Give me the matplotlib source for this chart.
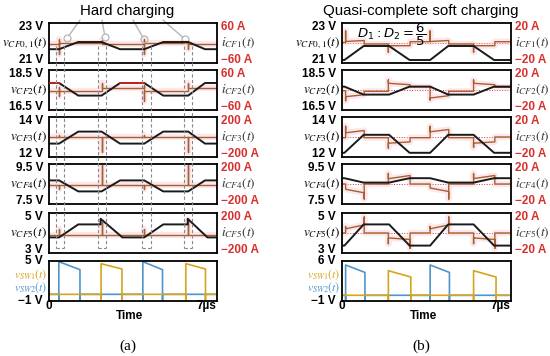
import numpy as np
import matplotlib
matplotlib.use("Agg")
import matplotlib.pyplot as plt
import matplotlib.transforms as mtransforms
from matplotlib.lines import Line2D

plt.rcParams["font.family"] = ["Liberation Sans", "DejaVu Sans"]
plt.rcParams["mathtext.fontset"] = "stix"

nan = np.nan
T_END = 7.0   # µs

# ─── (a) hard charging: capacitor voltages ─────────────────────
A_T  = [0, 0.42, 1.22, 2.19, 2.96, 3.97, 4.76, 5.8, 6.5, 7.0]
A_V1 = [21.69, 21.69, 22.05, 22.05, 21.69, 21.69, 22.05, 22.05, 21.69, 21.69]
A_V2 = [17.85, 17.85, 17.22, 17.22, 17.85, 17.85, 17.22, 17.22, 17.85, 17.85]
A_V3 = [12.67, 12.67, 13.27, 13.27, 12.67, 12.67, 13.27, 13.27, 12.67, 12.67]
A_V4 = [8.68, 8.68, 8.13, 8.13, 8.68, 8.68, 8.13, 8.13, 8.68, 8.68]
A_T5 = [0, 0.42, 1.22, 2.15, 2.15, 3.06, 3.97, 4.76, 5.78, 5.78, 6.6, 7.0]
A_V5 = [3.78, 3.78, 4.43, 4.43, 4.71, 3.78, 3.78, 4.43, 4.43, 4.71, 3.78, 3.78]

# (a) capacitor currents: flat levels with spikes at switching events
A_EV = [0.42, 2.19, 3.97, 5.8]
A_I1_LVL = [-3, 1, -2, 1, -2]
A_I1_UP = [13, 10, 11, nan]
A_I1_DN = [-32, nan, -32, -17]
A_I2_LVL = [-2, -2, 6, -2, 6]
A_I2_UP = [8, 21, 16, 21]
A_I2_DN = [-17, nan, -34, nan]
A_I3_LVL = [0, 0, 0, 0, 0]
A_I3_UP = [25, nan, 25, nan]
A_I3_DN = [nan, -150, nan, -150]
A_I4_LVL = [-10, -10, -10, -10, -10]
A_I4_UP = [nan, 190, nan, 190]
A_I4_DN = [-50, nan, -50, nan]
A_I5_LVL = [-15, -15, -15, -15, -15]
A_I5_UP = [44, 115, 44, 135]
A_I5_DN = [nan, nan, nan, nan]

A_VTOP = [23, 18.5, 14, 9.5, 5, 5]
A_VBOT = [21, 16.5, 12, 7.5, 3, -1]
A_IMAX = [60, 60, 200, 200, 200]

# (a) switch-node voltages
A_SW2_ON, A_SW2_OFF = [0.41, 3.91], [1.29, 4.73]
A_SW2_HI, A_SW2_LO = 4.9, 3.7
A_SW1_ON, A_SW1_OFF = [2.17, 5.7], [3.04, 6.52]
A_SW1_HI, A_SW1_LO = 4.6, 3.8

# (a) annotation targets and dashed windows
ANNOT_T = [0.75, 2.33, 3.96, 5.67]
ANNOT_I = [14, 19, 11, 11]
ANNOT_SRC_X = [80, 102, 133, 163]
A_WIN_L = [0.28, 2.03, 3.86, 5.64]
A_WIN_R = [0.64, 2.38, 4.25, 5.97]

# ─── (b) quasi-complete soft charging ─────────────────────────
B_T  = [0, 0.1, 0.9, 1.95, 2.8, 3.65, 4.4, 5.45, 6.3, 7.0]
B_V1 = [21.15, 21.15, 21.85, 21.85, 21.15, 21.15, 21.85, 21.85, 21.15, 21.15]
B_V2 = [17.67, 17.67, 17.27, 17.27, 17.67, 17.67, 17.27, 17.27, 17.67, 17.67]
B_V3 = [12.21, 12.21, 13.11, 13.11, 12.21, 12.21, 13.11, 13.11, 12.21, 12.21]
B_V4 = [8.79, 8.79, 8.57, 8.57, 8.79, 8.79, 8.57, 8.57, 8.79, 8.79]
B_V5 = [3.37, 3.37, 4.43, 4.43, 3.37, 3.37, 4.43, 4.43, 3.37, 3.37]

B_EV = [0.15, 0.92, 1.92, 2.82, 3.65, 4.42, 5.45, 6.33]
B_I1_A = [0.5, 1.5, -1, -2.7, 1.3, 1.5, -1, -2.7, 1.3]
B_I1_B = [0.5, 2.5, -1, -2.7, 1.3, 2.5, -1, -2.7, 1.3]
B_I1_SPK = [12, nan, -9.3, nan, 12, nan, -9.3, nan]
B_I2_A = [-0.7, -6.7, -1.3, 6.7, 3.3, -8, -1.3, 6.7, 2.7]
B_I2_B = [-0.7, -4.7, -1.3, 5.3, 3.3, -5.7, -1.3, 5.3, 2.7]
B_I2_SPK = [-10.7, nan, 10, nan, -10, nan, 10, nan]
B_I3_A = [-0.7, 4.2, -0.7, -6.2, -0.7, 5.2, -0.7, -6.2, 0]
B_I3_B = [-0.7, 6.5, -0.7, -4.9, -0.7, 7.5, -0.7, -4.9, 0]
B_I3_SPK = [10.7, nan, -11, nan, 10.7, nan, -10.4, nan]
B_I4_A = [0, -5.3, 0, 5.3, 0, -4, 0, 5.4, 0]
B_I4_B = [0, -8.8, 0, 8.5, 0, -7.5, 0, 8.5, 0]
B_I4_SPK = [nan, -15, 10.5, nan, nan, -15, 10.5, nan]
B_I5_A = [0, 4.2, 0, -4.9, 0, 4.2, 0, -4.9, 0]
B_I5_B = [0, 8.1, 0, -6.5, 0, 8.1, 0, -6.5, 0]
B_I5_SPK = [6.5, 16, -10.7, -15.3, 6.5, 16, -10.7, -15.3]

B_VTOP = [23, 18.5, 14, 9.5, 5, 6]
B_VBOT = [21, 16.5, 12, 7.5, 3, -1]
B_IMAX = [20, 20, 20, 20, 20]

B_SW2_ON, B_SW2_OFF = [0.15, 3.65], [0.95, 4.45]
B_SW2_HI, B_SW2_LO = 5.3, 4.0
B_SW1_ON, B_SW1_OFF = [1.92, 5.45], [2.85, 6.38]
B_SW1_HI, B_SW1_LO = 4.3, 3.2

V_NAMES = [r"$v_{CF0,1}(t)$", r"$v_{CF2}(t)$", r"$v_{CF3}(t)$",
           r"$v_{CF4}(t)$", r"$v_{CF5}(t)$"]
I_NAMES = [r"$i_{CF1}(t)$", r"$i_{CF2}(t)$", r"$i_{CF3}(t)$",
           r"$i_{CF4}(t)$", r"$i_{CF5}(t)$"]

# ─── colours / layout ─────────────────────────────────────────
C_V, C_I, C_PINK, C_RED = "#1a1a1a", "#a8602e", "#f6c3d0", "#d83030"
C_BLUE, C_YEL = "#4f95cc", "#d6a51c"
W, H = 550, 356
ROW_TOP = [23, 70, 117, 164, 213, 261]
ROW_H = 40
A_X = (49, 217)
B_X = (342, 511)
NAME_FS = 9.5


def build_current(ev, lv0, lv1, up, dn=None):
    edges = np.r_[0.0, ev, T_END]
    ts, vs = [], []
    for k in range(len(edges) - 1):
        if k > 0:
            if not np.isnan(up[k - 1]):
                ts.append(edges[k]); vs.append(up[k - 1])
            if dn is not None and not np.isnan(dn[k - 1]):
                ts.append(edges[k]); vs.append(dn[k - 1])
        ts += [edges[k], edges[k + 1]]
        vs += [lv0[k], lv1[k]]
    return ts, vs


def build_pulses(on, off, hi, lo):
    ts, vs = [0.0], [0.0]
    for a, b in zip(on, off):
        ts += [a, a, a, b, b, b]
        vs += [0.0, -0.9, hi, lo, -0.9, 0.0]
    ts.append(T_END); vs.append(0.0)
    return ts, vs


fig = plt.figure(figsize=(W / 100, H / 100), dpi=100)


def fx(x):
    return x / W


def fy(y):
    return 1 - y / H


def box(xs, top, h=ROW_H):
    ax = fig.add_axes([fx(xs[0]), fy(top + h), (xs[1] - xs[0]) / W, h / H])
    ax.set_xticks([]); ax.set_yticks([])
    for s in ax.spines.values():
        s.set_linewidth(1.3)
    ax.set_xlim(0, T_END)
    return ax


def side_labels(xs, top, vt, vb, imax=None, iname=None, dy=(4, 3)):
    kw = dict(fontsize=8.5, fontweight="bold", va="center")
    fig.text(fx(xs[0] - 6), fy(top + dy[0]), f"{vt:g} V", ha="right", **kw)
    fig.text(fx(xs[0] - 6), fy(top + ROW_H - dy[1]),
             f"{vb:g} V".replace("-", "\u2212"), ha="right", **kw)
    if imax is not None:
        fig.text(fx(xs[1] + 4), fy(top + 4), f"{imax} A", ha="left",
                 color=C_RED, **kw)
        fig.text(fx(xs[1] + 4), fy(top + ROW_H - 3), f"\u2212{imax} A",
                 ha="left", color=C_RED, **kw)
        fig.text(fx(xs[1] + 4), fy(top + ROW_H / 2), iname, ha="left",
                 va="center", fontsize=NAME_FS, color="#333333")


def draw_row(xs, r, tv, vv, ti, iv, vt, vb, imax, dotted=False):
    ax = box(xs, ROW_TOP[r])
    axi = ax.twinx()
    axi.set_axis_off()
    axi.set_ylim(-imax, imax)
    if dotted:
        axi.axhline(0, color=C_RED, lw=0.7, ls=":")
    axi.plot(ti, iv, color=C_PINK, lw=4.5, alpha=0.4, solid_capstyle="butt")
    axi.plot(ti, iv, color=C_I, lw=1.0)
    ax.set_zorder(axi.get_zorder() + 1)
    ax.patch.set_visible(False)
    ax.plot(tv, vv, color=C_V, lw=1.4)
    ax.set_ylim(vb, vt)
    ax.set_xlim(0, T_END)
    side_labels(xs, ROW_TOP[r], vt, vb, imax, I_NAMES[r])
    fig.text(fx(xs[0] - 2), fy(ROW_TOP[r] + ROW_H / 2), V_NAMES[r],
             ha="right", va="center", fontsize=NAME_FS)
    return ax, axi


# ─── panel (a) ────────────────────────────────────────────────
a_v = [A_V1, A_V2, A_V3, A_V4, A_V5]
a_t = [A_T, A_T, A_T, A_T, A_T5]
a_lvl = [A_I1_LVL, A_I2_LVL, A_I3_LVL, A_I4_LVL, A_I5_LVL]
a_up = [A_I1_UP, A_I2_UP, A_I3_UP, A_I4_UP, A_I5_UP]
a_dn = [A_I1_DN, A_I2_DN, A_I3_DN, A_I4_DN, A_I5_DN]
a_axes = []
for r in range(5):
    ti, iv = build_current(A_EV, a_lvl[r], a_lvl[r], a_up[r], a_dn[r])
    a_axes.append(draw_row(A_X, r, a_t[r], a_v[r], ti, iv,
                           A_VTOP[r], A_VBOT[r], A_IMAX[r]))

# red overlay on the upper plateaus of v_CF2
a_axes[1][0].plot(A_T[0:2], A_V2[0:2], color="#e02020", lw=1.2, zorder=5)
a_axes[1][0].plot(A_T[4:6], A_V2[4:6], color="#e02020", lw=1.2, zorder=5)

# switch-node row (a)
ax6a = box(A_X, ROW_TOP[5])
ts, vs = build_pulses(A_SW2_ON, A_SW2_OFF, A_SW2_HI, A_SW2_LO)
ax6a.plot(ts, vs, color=C_BLUE, lw=1.2)
ts, vs = build_pulses(A_SW1_ON, A_SW1_OFF, A_SW1_HI, A_SW1_LO)
ax6a.plot(ts, vs, color=C_YEL, lw=1.2)
ax6a.set_ylim(A_VBOT[5], A_VTOP[5])
side_labels(A_X, ROW_TOP[5], A_VTOP[5], A_VBOT[5], dy=(0, 0))

# dashed switching windows across the rows
blend = mtransforms.blended_transform_factory(a_axes[0][0].transData,
                                              fig.transFigure)
for tl, tr in zip(A_WIN_L, A_WIN_R):
    for t in (tl, tr):
        fig.add_artist(Line2D([t, t], [fy(46), fy(248)], transform=blend,
                              color="#8a8a8a", lw=0.8, ls=(0, (3, 2))))
    fig.add_artist(Line2D([tl, tr], [fy(248), fy(248)], transform=blend,
                          color="#8a8a8a", lw=0.8, ls=(0, (3, 2))))

# annotation pointers from the title
axi1 = a_axes[0][1]
axi1.plot(ANNOT_T, ANNOT_I, "o", ms=5, mfc="none", mec="#b5b5b5", mew=0.9)
for t, i, sx in zip(ANNOT_T, ANNOT_I, ANNOT_SRC_X):
    axi1.annotate("", xy=(t, i), xycoords="data",
                  xytext=(sx, H - 20), textcoords="figure pixels",
                  arrowprops=dict(arrowstyle="-", color="#b5b5b5", lw=1.0,
                                  shrinkA=0, shrinkB=2.5),
                  annotation_clip=False)

# ─── panel (b) ────────────────────────────────────────────────
b_v = [B_V1, B_V2, B_V3, B_V4, B_V5]
b_a = [B_I1_A, B_I2_A, B_I3_A, B_I4_A, B_I5_A]
b_b = [B_I1_B, B_I2_B, B_I3_B, B_I4_B, B_I5_B]
b_s = [B_I1_SPK, B_I2_SPK, B_I3_SPK, B_I4_SPK, B_I5_SPK]
for r in range(5):
    ti, iv = build_current(B_EV, b_a[r], b_b[r], b_s[r])
    draw_row(B_X, r, B_T, b_v[r], ti, iv, B_VTOP[r], B_VBOT[r],
             B_IMAX[r], dotted=True)

ax6b = box(B_X, ROW_TOP[5])
ts, vs = build_pulses(B_SW2_ON, B_SW2_OFF, B_SW2_HI, B_SW2_LO)
ax6b.plot(ts, vs, color=C_BLUE, lw=1.2)
ts, vs = build_pulses(B_SW1_ON, B_SW1_OFF, B_SW1_HI, B_SW1_LO)
ax6b.plot(ts, vs, color=C_YEL, lw=1.2)
ax6b.set_ylim(B_VBOT[5], B_VTOP[5])
side_labels(B_X, ROW_TOP[5], B_VTOP[5], B_VBOT[5], dy=(0, 0))

fig.text(fx(B_X[0] + 15), fy(ROW_TOP[0] + 12), r"$D_1:D_2=\dfrac{6}{5}$",
         fontsize=9.5, ha="left", va="center", math_fontfamily="dejavusans")

# ─── shared text ──────────────────────────────────────────────
for xs, ttl, tag in ((A_X, "Hard charging", "(a)"),
                     (B_X, "Quasi-complete soft charging", "(b)")):
    mid = (xs[0] + xs[1]) / 2
    fig.text(fx(mid - 6), fy(11), ttl, ha="center", va="center",
             fontsize=10.8)
    fig.text(fx(xs[0] - 2), fy(ROW_TOP[5] + 13.5), r"$v_{SW1}(t)$",
             ha="right", va="center", fontsize=8.5, color=C_YEL)
    fig.text(fx(xs[0] - 2), fy(ROW_TOP[5] + 27), r"$v_{SW2}(t)$",
             ha="right", va="center", fontsize=8.5, color=C_BLUE)
    fig.text(fx(xs[0]), fy(306), "0", ha="center", va="center",
             fontsize=8.5, fontweight="bold")
    fig.text(fx(xs[1] - 1), fy(306), "7\u00b5s", ha="right", va="center",
             fontsize=8.5, fontweight="bold")
    fig.text(fx(mid - 3), fy(316), "Time", ha="center", va="center",
             fontsize=8.5, fontweight="bold")
    fig.text(fx(mid - 5), fy(346), tag, ha="center", va="center",
             fontsize=11, family="Liberation Serif")

fig.savefig("out.png", dpi=100)
